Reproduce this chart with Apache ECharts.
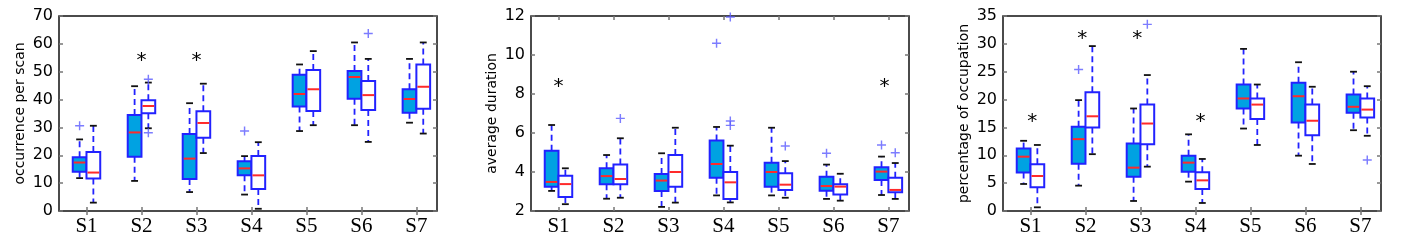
<!DOCTYPE html>
<html>
<head>
<meta charset="utf-8">
<script src="https://cdn.jsdelivr.net/npm/echarts@6/dist/echarts.min.js"></script>
<style>
html, body { margin: 0; padding: 0; background: #fff; }
#chart { width: 1408px; height: 247px; }
</style>
</head>
<body>
<div id="chart"></div>
<script>
// tick labels on the x axis
var xLabels = ['S1', 'S2', 'S3', 'S4', 'S5', 'S6', 'S7'];

// each row: [lower whisker, Q1, median, Q3, upper whisker]
// A = filled box (left), B = white box (right)
var occurA = [[11.8, 14.1, 17.4, 19.3, 25.7], [10.8, 19.5, 28.2, 34.5, 44.8], [6.8, 11.5, 18.8, 27.6, 38.7],
  [5.9, 12.8, 15.3, 17.9, 19.7], [28.7, 37.5, 42.0, 48.9, 52.6], [30.8, 40.3, 48.1, 50.3, 60.5], [31.7, 35.3, 40.2, 43.7, 54.6]];
var occurB = [[3.0, 11.7, 13.8, 21.2, 30.6], [29.7, 35.1, 37.7, 39.8, 46.1], [20.8, 26.3, 31.6, 35.8, 45.7],
  [0.8, 7.9, 12.8, 19.7, 24.7], [30.8, 35.9, 43.7, 50.6, 57.4], [24.8, 36.3, 41.6, 46.7, 54.6], [27.8, 36.7, 44.6, 52.6, 60.5]];
var occurOutA = [[1, 30.6], [4, 28.7]];
var occurOutB = [[2, 47.3], [2, 28.1], [6, 63.7]];
var occurStars = [[2, 55.3], [3, 55.3]];

var durA = [[3.03, 3.25, 3.49, 5.09, 6.41], [2.63, 3.37, 3.79, 4.19, 4.87], [2.21, 3.03, 3.56, 3.90, 4.96],
  [2.80, 3.71, 4.41, 5.61, 6.31], [2.80, 3.25, 4.00, 4.48, 6.27], [2.62, 3.04, 3.28, 3.76, 4.38], [2.82, 3.59, 4.02, 4.24, 4.79]];
var durB = [[2.35, 2.72, 3.38, 3.81, 4.19], [2.68, 3.37, 3.64, 4.39, 5.73], [2.43, 3.25, 4.00, 4.87, 6.27],
  [2.44, 2.62, 3.47, 4.00, 5.35], [2.68, 3.08, 3.35, 3.93, 4.56], [2.53, 2.84, 3.25, 3.37, 3.91], [2.62, 2.96, 3.08, 3.71, 4.46]];
var durOutA = [[4, 10.6], [6, 4.96], [7, 5.38]];
var durOutB = [[2, 6.75], [4, 6.62], [4, 6.39], [4, 11.95], [5, 5.33], [7, 4.99]];
var durStars = [[1, 8.6], [6.93, 8.6]];

var pctA = [[4.85, 6.9, 9.75, 11.2, 12.6], [4.55, 8.5, 12.9, 15.1, 19.9], [1.8, 6.16, 7.78, 12.1, 18.4],
  [5.27, 7.06, 8.68, 9.93, 13.76], [14.8, 18.4, 20.2, 22.7, 29.1], [9.93, 15.9, 20.6, 23.0, 26.7], [14.5, 17.65, 18.7, 20.9, 25.0]];
var pctB = [[0.66, 4.25, 6.28, 8.38, 11.85], [10.2, 15.0, 17.0, 21.3, 29.6], [7.96, 12.0, 15.7, 19.1, 24.4],
  [1.44, 3.95, 5.5, 6.94, 9.34], [11.85, 16.5, 19.1, 20.2, 22.7], [8.44, 13.6, 16.2, 19.1, 22.3], [13.5, 16.8, 18.2, 20.2, 22.4]];
var pctOutA = [[2, 25.4]];
var pctOutB = [[3, 33.5], [7, 9.16]];
var pctStars = [[1.03, 16.7], [1.94, 31.6], [2.94, 31.6], [4.09, 16.7]];

var panels = [
  { name: 'occurrence per scan', min: 0, max: 70, step: 10, a: occurA, b: occurB, outA: occurOutA, outB: occurOutB, stars: occurStars, left: 59 },
  { name: 'average duration', min: 2, max: 12, step: 2, a: durA, b: durB, outA: durOutA, outB: durOutB, stars: durStars, left: 531 },
  { name: 'percentage of occupation', min: 0, max: 35, step: 5, a: pctA, b: pctB, outA: pctOutA, outB: pctOutB, stars: pctStars, left: 1003 }
];

var fillColor = '#00a2e2';
var edgeColor = '#2222ff';
var medianColor = '#ff2a2a';
var capColor = '#111';
var flierColor = '#5b5bff';
var boxW = 0.25;
var tickPos = [1, 2, 3, 4, 5, 6, 7];
var plusPath = 'path://M4.2,0H5.8V4.2H10V5.8H5.8V10H4.2V5.8H0V4.2H4.2Z';

function boxRenderer(fill, shift) {
  return function (params, api) {
    var pos = api.value(0) + shift;
    var lo = api.coord([pos, api.value(1)]);
    var q1 = api.coord([pos, api.value(2)]);
    var md = api.coord([pos, api.value(3)]);
    var q3 = api.coord([pos, api.value(4)]);
    var hi = api.coord([pos, api.value(5)]);
    var w = api.size([boxW, 0])[0];
    var cx = lo[0];
    var cap = w / 4;
    var wh = { stroke: edgeColor, lineWidth: 1.8, lineDash: [6, 4] };
    var cp = { stroke: capColor, lineWidth: 1.8 };
    return {
      type: 'group',
      children: [
        { type: 'line', shape: { x1: cx, y1: q3[1], x2: cx, y2: hi[1] }, style: wh },
        { type: 'line', shape: { x1: cx, y1: q1[1], x2: cx, y2: lo[1] }, style: wh },
        { type: 'line', shape: { x1: cx - cap, y1: hi[1], x2: cx + cap, y2: hi[1] }, style: cp },
        { type: 'line', shape: { x1: cx - cap, y1: lo[1], x2: cx + cap, y2: lo[1] }, style: cp },
        { type: 'rect', shape: { x: cx - w / 2, y: q3[1], width: w, height: q1[1] - q3[1] },
          style: { fill: fill, stroke: edgeColor, lineWidth: 2 } },
        { type: 'line', shape: { x1: cx - w / 2 + 1, y1: md[1], x2: cx + w / 2 - 1, y2: md[1] },
          style: { stroke: medianColor, lineWidth: 2 } }
      ]
    };
  };
}

function starRenderer(params, api) {
  var p = api.coord([api.value(0), api.value(1)]);
  return {
    type: 'text',
    x: p[0], y: p[1] + 4,
    style: { text: '*', fill: '#000', font: '20px "DejaVu Sans"', align: 'center', verticalAlign: 'middle' }
  };
}

var grids = [], xAxes = [], yAxes = [], series = [];

panels.forEach(function (pn, i) {
  grids.push({ left: pn.left, top: 16, width: 378, height: 195, show: true, borderColor: '#111', borderWidth: 1.5 });

  var tickStyle = { show: true, inside: true, length: 4, customValues: tickPos, lineStyle: { color: '#777', width: 1.5 } };
  xAxes.push({
    gridIndex: i, type: 'value', min: 0.5, max: 7.375, position: 'bottom',
    axisLine: { show: false }, splitLine: { show: false },
    axisTick: tickStyle,
    axisLabel: {
      customValues: tickPos, margin: 5, color: '#000', fontFamily: 'Liberation Serif', fontSize: 21,
      formatter: function (v) { return xLabels[Math.round(v) - 1]; }
    }
  });
  xAxes.push({
    gridIndex: i, type: 'value', min: 0.5, max: 7.375, position: 'top',
    axisLine: { show: false }, splitLine: { show: false },
    axisTick: tickStyle, axisLabel: { show: false }
  });

  var yTick = { show: true, inside: true, length: 4, lineStyle: { color: '#777', width: 1.5 } };
  yAxes.push({
    gridIndex: i, type: 'value', min: pn.min, max: pn.max, interval: pn.step, position: 'left',
    axisLine: { show: false }, splitLine: { show: false }, axisTick: yTick,
    axisLabel: { color: '#000', fontFamily: 'DejaVu Sans', fontSize: 16, margin: 6 },
    name: pn.name, nameLocation: 'middle', nameGap: 32,
    nameTextStyle: { color: '#000', fontFamily: 'DejaVu Sans', fontSize: 14 }
  });
  yAxes.push({
    gridIndex: i, type: 'value', min: pn.min, max: pn.max, interval: pn.step, position: 'right',
    axisLine: { show: false }, splitLine: { show: false }, axisTick: yTick, axisLabel: { show: false }
  });

  var xi = i * 2, yi = i * 2;
  function rows(arr) { return arr.map(function (r, k) { return [k + 1].concat(r); }); }
  function pts(arr, shift) { return arr.map(function (p) { return [p[0] + shift, p[1]]; }); }

  series.push({
    type: 'custom', xAxisIndex: xi, yAxisIndex: yi, renderItem: boxRenderer(fillColor, -boxW / 2),
    data: rows(pn.a), encode: { x: 0, y: [1, 2, 3, 4, 5] }, z: 3
  });
  series.push({
    type: 'custom', xAxisIndex: xi, yAxisIndex: yi, renderItem: boxRenderer('#fff', boxW / 2),
    data: rows(pn.b), encode: { x: 0, y: [1, 2, 3, 4, 5] }, z: 3
  });
  series.push({
    type: 'scatter', xAxisIndex: xi, yAxisIndex: yi, symbol: plusPath, symbolSize: 9,
    itemStyle: { color: flierColor }, data: pts(pn.outA, -boxW / 2).concat(pts(pn.outB, boxW / 2)), z: 4
  });
  series.push({
    type: 'custom', xAxisIndex: xi, yAxisIndex: yi, renderItem: starRenderer,
    data: pn.stars, encode: { x: 0, y: 1 }, z: 5
  });
});

var chart = echarts.init(document.getElementById('chart'), null, { renderer: 'canvas' });
chart.setOption({
  animation: false,
  backgroundColor: '#fff',
  grid: grids,
  xAxis: xAxes,
  yAxis: yAxes,
  series: series
});
window.addEventListener('resize', chart.resize);
</script>
</body>
</html>
